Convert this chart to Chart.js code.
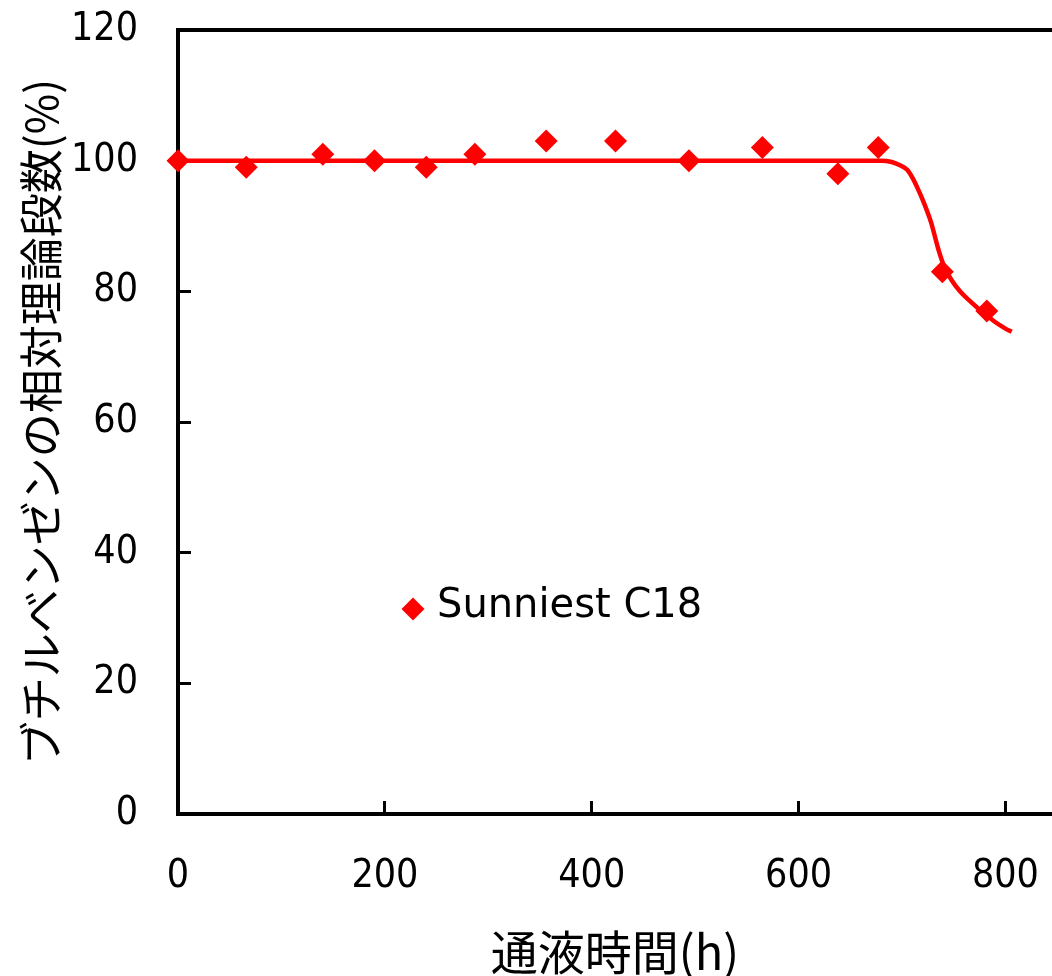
<!DOCTYPE html>
<html>
<head>
<meta charset="utf-8">
<script src="https://cdn.jsdelivr.net/npm/chart.js@4.4.1/dist/chart.umd.min.js"></script>
<style>
  body { margin: 0; background: #fff; }
  #wrap { width: 1052px; height: 976px; position: relative; }
</style>
</head>
<body>
<div id="wrap"><canvas id="myCanvas"></canvas></div>
<script>
// measured points (通液時間 h, 相対理論段数 %)
const hours = [0, 66, 140, 190, 240, 287, 356, 423, 494, 565, 638, 677, 739, 782];
const plates = [100, 99, 101, 100, 99, 101, 103, 103, 100, 102, 98, 102, 83, 77];

// fitted curve
const fitHours = [0, 680, 690, 698, 705, 710, 715, 720, 728, 735, 741, 748, 756, 765, 772, 780, 790, 800, 806];
const fitPlates = [100, 100, 99.8, 99.3, 98.6, 97.4, 95.8, 94.0, 90.6, 86.5, 83.7, 81.7, 80.0, 78.6, 77.6, 76.6, 75.3, 74.3, 73.8];

const xTicks = [0, 200, 400, 600, 800];
const yTicks = [0, 20, 40, 60, 80, 100, 120];

const seriesName = 'Sunniest C18';
const xTitle = '通液時間(h)';
const yTitle = 'ブチルベンゼンの相対理論段数(%)';

const red = '#ff0000';
const tickFont = { family: '"DejaVu Sans Condensed", "DejaVu Sans", sans-serif', size: 39 };

function toPoints(xs, ys) {
    return xs.map((x, i) => ({ x: x, y: ys[i] }));
}

// top frame line of the plot area
const frameLine = {
    id: 'frameLine',
    afterDraw(chart) {
        const ctx = chart.ctx;
        const a = chart.chartArea;
        ctx.save();
        ctx.strokeStyle = '#000';
        ctx.lineWidth = 4;
        ctx.beginPath();
        ctx.moveTo(a.left - 2, a.top);
        ctx.lineTo(a.right, a.top);
        ctx.stroke();
        ctx.restore();
    }
};

// legend drawn inside the plot
const innerLegend = {
    id: 'innerLegend',
    afterDraw(chart) {
        const ctx = chart.ctx;
        const a = chart.chartArea;
        const x = a.left + 235;
        const y = a.top + 579;
        ctx.save();
        ctx.fillStyle = red;
        Chart.helpers.drawPoint(ctx, { pointStyle: 'rectRot', radius: 11.5, borderWidth: 0 }, x, y);
        ctx.fillStyle = '#000';
        ctx.font = '40px "DejaVu Sans", sans-serif';
        ctx.textBaseline = 'middle';
        ctx.fillText(chart.data.datasets[0].label, x + 24, y - 2);
        ctx.restore();
    }
};

new Chart(document.getElementById('myCanvas').getContext('2d'), {
    type: 'scatter',
    data: {
        datasets: [{
            label: seriesName,
            data: toPoints(hours, plates),
            pointStyle: 'rectRot',
            pointRadius: 11.5,
            pointHoverRadius: 11.5,
            backgroundColor: red,
            borderColor: red,
            borderWidth: 0,
            clip: false
        }, {
            label: 'fit',
            data: toPoints(fitHours, fitPlates),
            showLine: true,
            pointRadius: 0,
            borderColor: red,
            borderWidth: 4.5,
            cubicInterpolationMode: 'monotone',
            fill: false
        }]
    },
    options: {
        responsive: true,
        maintainAspectRatio: false,
        animation: false,
        layout: { autoPadding: false, padding: { top: 30, left: 0, right: 0, bottom: 0 } },
        plugins: {
            legend: { display: false },
            tooltip: { enabled: false }
        },
        scales: {
            x: {
                type: 'linear',
                min: 0,
                max: 845,
                afterBuildTicks: (scale) => { scale.ticks = xTicks.map(v => ({ value: v })); },
                afterFit: (scale) => { scale.height = 162; scale.paddingLeft = 0; scale.paddingRight = 0; },
                ticks: { color: '#000', font: tickFont, padding: 52, maxRotation: 0 },
                grid: { drawOnChartArea: false, tickLength: -13, tickWidth: 3, tickColor: '#000' },
                border: { color: '#000', width: 4 },
                title: {
                    display: true, text: xTitle, color: '#000', padding: 0,
                    font: { family: '"Noto Sans CJK JP", sans-serif', size: 47, lineHeight: 1 }
                }
            },
            y: {
                type: 'linear',
                min: 0,
                max: 120,
                afterBuildTicks: (scale) => { scale.ticks = yTicks.map(v => ({ value: v })); },
                afterFit: (scale) => { scale.width = 178; scale.paddingTop = 0; scale.paddingBottom = 0; },
                ticks: { color: '#000', font: tickFont, padding: 53 },
                grid: { drawOnChartArea: false, tickLength: -13, tickWidth: 3, tickColor: '#000' },
                border: { color: '#000', width: 4 },
                title: {
                    display: true, text: yTitle, color: '#000', padding: { top: 19, bottom: 0 },
                    font: { family: '"Noto Sans CJK JP", sans-serif', size: 44, lineHeight: 1 }
                }
            }
        }
    },
    plugins: [frameLine, innerLegend]
});
</script>
</body>
</html>
